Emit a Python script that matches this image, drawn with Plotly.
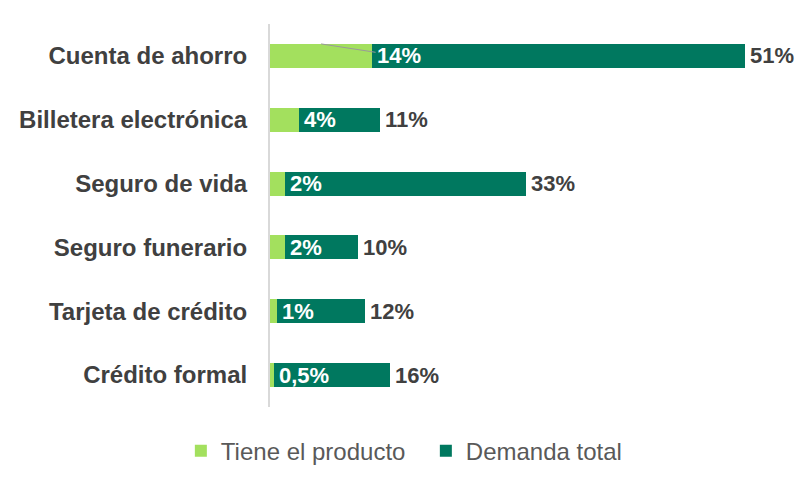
import plotly.graph_objects as go

categories = ["Cuenta de ahorro", "Billetera electrónica", "Seguro de vida",
              "Seguro funerario", "Tarjeta de crédito", "Crédito formal"]
tiene = [14, 4, 2, 2, 1, 0.5]
demanda = [51, 11, 33, 10, 12, 16]
tiene_labels = ["14%", "4%", "2%", "2%", "1%", "0,5%"]
demanda_labels = ["51%", "11%", "33%", "10%", "12%", "16%"]

LIGHT = "#A3E05E"
DARK = "#00785F"
FONT = "Liberation Sans, Arial, sans-serif"

fig = go.Figure()
fig.add_trace(go.Bar(y=categories, x=tiene, orientation="h", name="Tiene el producto",
                     marker=dict(color=LIGHT, line=dict(width=0)), width=0.375,
                     hoverinfo="skip"))
fig.add_trace(go.Bar(y=categories, x=demanda, orientation="h", name="Demanda total",
                     marker=dict(color=DARK, line=dict(width=0)), width=0.375,
                     hoverinfo="skip"))

for i, c in enumerate(categories):
    t = tiene[i]
    d = demanda[i]
    if i == 0:
        fig.add_annotation(x=t / 2, y=c, yshift=12, text=tiene_labels[i],
                           showarrow=True, arrowhead=0, arrowwidth=1, arrowcolor="#9a9a9a",
                           ax=78, ay=12, standoff=0, startstandoff=0,
                           xanchor="center", yanchor="middle",
                           font=dict(family=FONT, size=22, color="white", weight="bold"))
    else:
        fig.add_annotation(x=t, y=c, text=tiene_labels[i], showarrow=False,
                           xanchor="left", yanchor="middle", xshift=3, yshift=0,
                           font=dict(family=FONT, size=22, color="white", weight="bold"))
    fig.add_annotation(x=t + d, y=c, text=demanda_labels[i], showarrow=False,
                       xanchor="left", yanchor="middle", xshift=3,
                       font=dict(family=FONT, size=22, color="#404040", weight="bold"))

fig.update_layout(
    barmode="stack",
    width=807, height=485,
    margin=dict(l=270, r=26, t=24, b=78),
    paper_bgcolor="white", plot_bgcolor="white",
    showlegend=True,
    legend=dict(orientation="h", x=0.305, xanchor="center", y=-0.115, yanchor="middle",
                traceorder="normal",
                font=dict(family=FONT, size=24, color="#595959"),
                itemwidth=30, entrywidth=200, entrywidthmode="pixels"),
    xaxis=dict(range=[0, 70], visible=False, fixedrange=True),
    yaxis=dict(categoryorder="array", categoryarray=categories[::-1],
               range=[-0.5, 5.5], showline=True, linecolor="#D9D9D9", linewidth=2,
               showgrid=False, zeroline=False, ticks="", ticklabelstandoff=16,
               tickfont=dict(family=FONT, size=24, color="#404040", weight="bold")),
    bargap=0.625,
)

fig.write_html("out.html")
